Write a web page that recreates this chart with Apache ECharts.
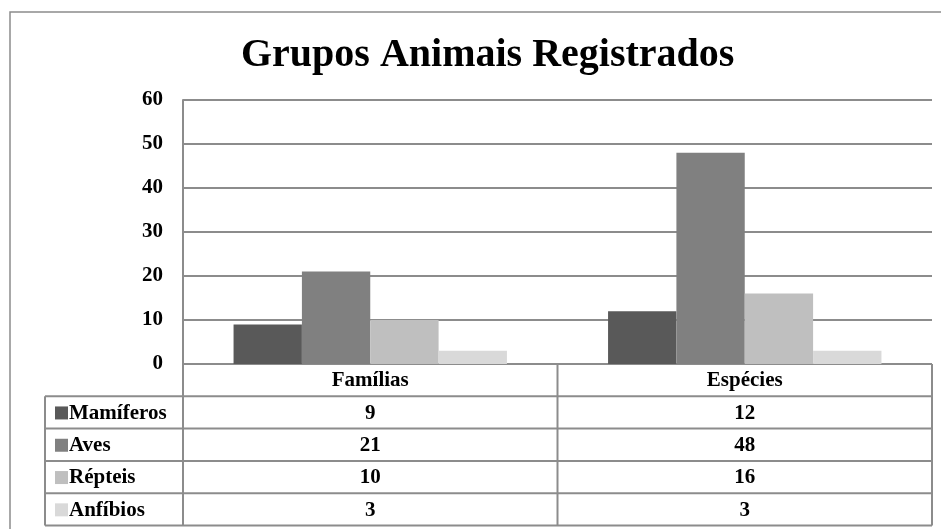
<!DOCTYPE html>
<html>
<head>
<meta charset="utf-8">
<style>
  html, body { margin: 0; padding: 0; background: #ffffff; }
  #chart { width: 941px; height: 529px; }
</style>
<script src="https://cdn.jsdelivr.net/npm/echarts@6/dist/echarts.min.js"></script>
</head>
<body>
<div id="chart"></div>
<script>
// Categories on the x axis and one value per series
const categories = ['Famílias', 'Espécies'];
const seriesNames = ['Mamíferos', 'Aves', 'Répteis', 'Anfíbios'];
const mamiferos = [9, 12];
const aves = [21, 48];
const repteis = [10, 16];
const anfibios = [3, 3];
const yTicks = [0, 10, 20, 30, 40, 50, 60];

const seriesValues = [mamiferos, aves, repteis, anfibios];
const seriesColors = ['#595959', '#808080', '#bfbfbf', '#d9d9d9'];

const FONT = "'Liberation Serif', 'Times New Roman', serif";
const LINE = '#8c8c8c';
const ROW_H = 32.3;
const TABLE_LEFT = 45;
const TABLE_FONT = 21;

const chart = echarts.init(document.getElementById('chart'));

chart.setOption({
  animation: false,
  backgroundColor: '#ffffff',
  title: {
    text: 'Grupos Animais Registrados',
    left: 236,
    top: 31,
    textStyle: { fontFamily: FONT, fontWeight: 'bold', fontSize: 40, color: '#000000' }
  },
  grid: { left: 183, right: 9, top: 100, bottom: 165, containLabel: false },
  xAxis: {
    type: 'category',
    data: categories,
    axisLine: { show: false },
    axisTick: { show: false },
    axisLabel: {
      margin: 17,
      verticalAlign: 'middle',
      fontFamily: FONT, fontWeight: 'bold', fontSize: TABLE_FONT, color: '#000000'
    }
  },
  yAxis: {
    type: 'value',
    min: yTicks[0],
    max: yTicks[yTicks.length - 1],
    interval: yTicks[1] - yTicks[0],
    axisLine: { show: true, lineStyle: { color: LINE, width: 2 } },
    axisTick: { show: false },
    axisLabel: {
      margin: 20,
      fontFamily: FONT, fontWeight: 'bold', fontSize: 21, color: '#000000'
    },
    splitLine: { lineStyle: { color: LINE, width: 2 } }
  },
  series: seriesNames.map((name, i) => ({
    name: name,
    type: 'bar',
    data: seriesValues[i],
    barGap: '0%',
    barCategoryGap: '27%',
    itemStyle: { color: seriesColors[i] }
  }))
});

// Data table under the plot, laid out from the axis positions
function drawTable() {
  const c0 = chart.convertToPixel({ xAxisIndex: 0 }, categories[0]);
  const c1 = chart.convertToPixel({ xAxisIndex: 0 }, categories[1]);
  const half = (c1 - c0) / 2;
  const colEdges = [c0 - half, c0 + half, c1 + half];
  const yBase = chart.convertToPixel({ yAxisIndex: 0 }, 0);
  const rowsTop = yBase + ROW_H;
  const tableBottom = rowsTop + ROW_H * seriesNames.length;
  const els = [];
  const line = (x1, y1, x2, y2) => els.push({
    type: 'line', silent: true,
    shape: { x1, y1, x2, y2 },
    style: { stroke: LINE, lineWidth: 2 }
  });

  // outer frame of the chart area
  els.push({
    type: 'rect', silent: true,
    shape: { x: 10, y: 12, width: 960, height: 560 },
    style: { fill: null, stroke: '#8c8c8c', lineWidth: 1.5 }
  });

  // horizontal rules
  line(colEdges[0], yBase, colEdges[2], yBase);
  for (let r = 0; r <= seriesNames.length; r++) {
    const y = rowsTop + r * ROW_H;
    line(TABLE_LEFT, y, colEdges[2], y);
  }
  // vertical rules
  line(TABLE_LEFT, rowsTop, TABLE_LEFT, tableBottom);
  colEdges.forEach(x => line(x, yBase, x, tableBottom));

  seriesNames.forEach((name, i) => {
    const yMid = rowsTop + i * ROW_H + ROW_H / 2;
    // legend key
    els.push({
      type: 'rect', silent: true,
      shape: { x: TABLE_LEFT + 10, y: yMid - 6, width: 13, height: 13 },
      style: { fill: seriesColors[i] }
    });
    els.push({
      type: 'text', silent: true,
      x: TABLE_LEFT + 24, y: yMid + 1,
      style: {
        text: name, fontFamily: FONT, fontWeight: 'bold', fontSize: TABLE_FONT,
        fill: '#000000', align: 'left', verticalAlign: 'middle'
      }
    });
    categories.forEach((cat, j) => {
      els.push({
        type: 'text', silent: true,
        x: j === 0 ? c0 : c1, y: yMid + 1,
        style: {
          text: String(seriesValues[i][j]), fontFamily: FONT, fontWeight: 'bold', fontSize: TABLE_FONT,
          fill: '#000000', align: 'center', verticalAlign: 'middle'
        }
      });
    });
  });

  chart.setOption({ graphic: { elements: els } });
}
drawTable();
</script>
</body>
</html>
